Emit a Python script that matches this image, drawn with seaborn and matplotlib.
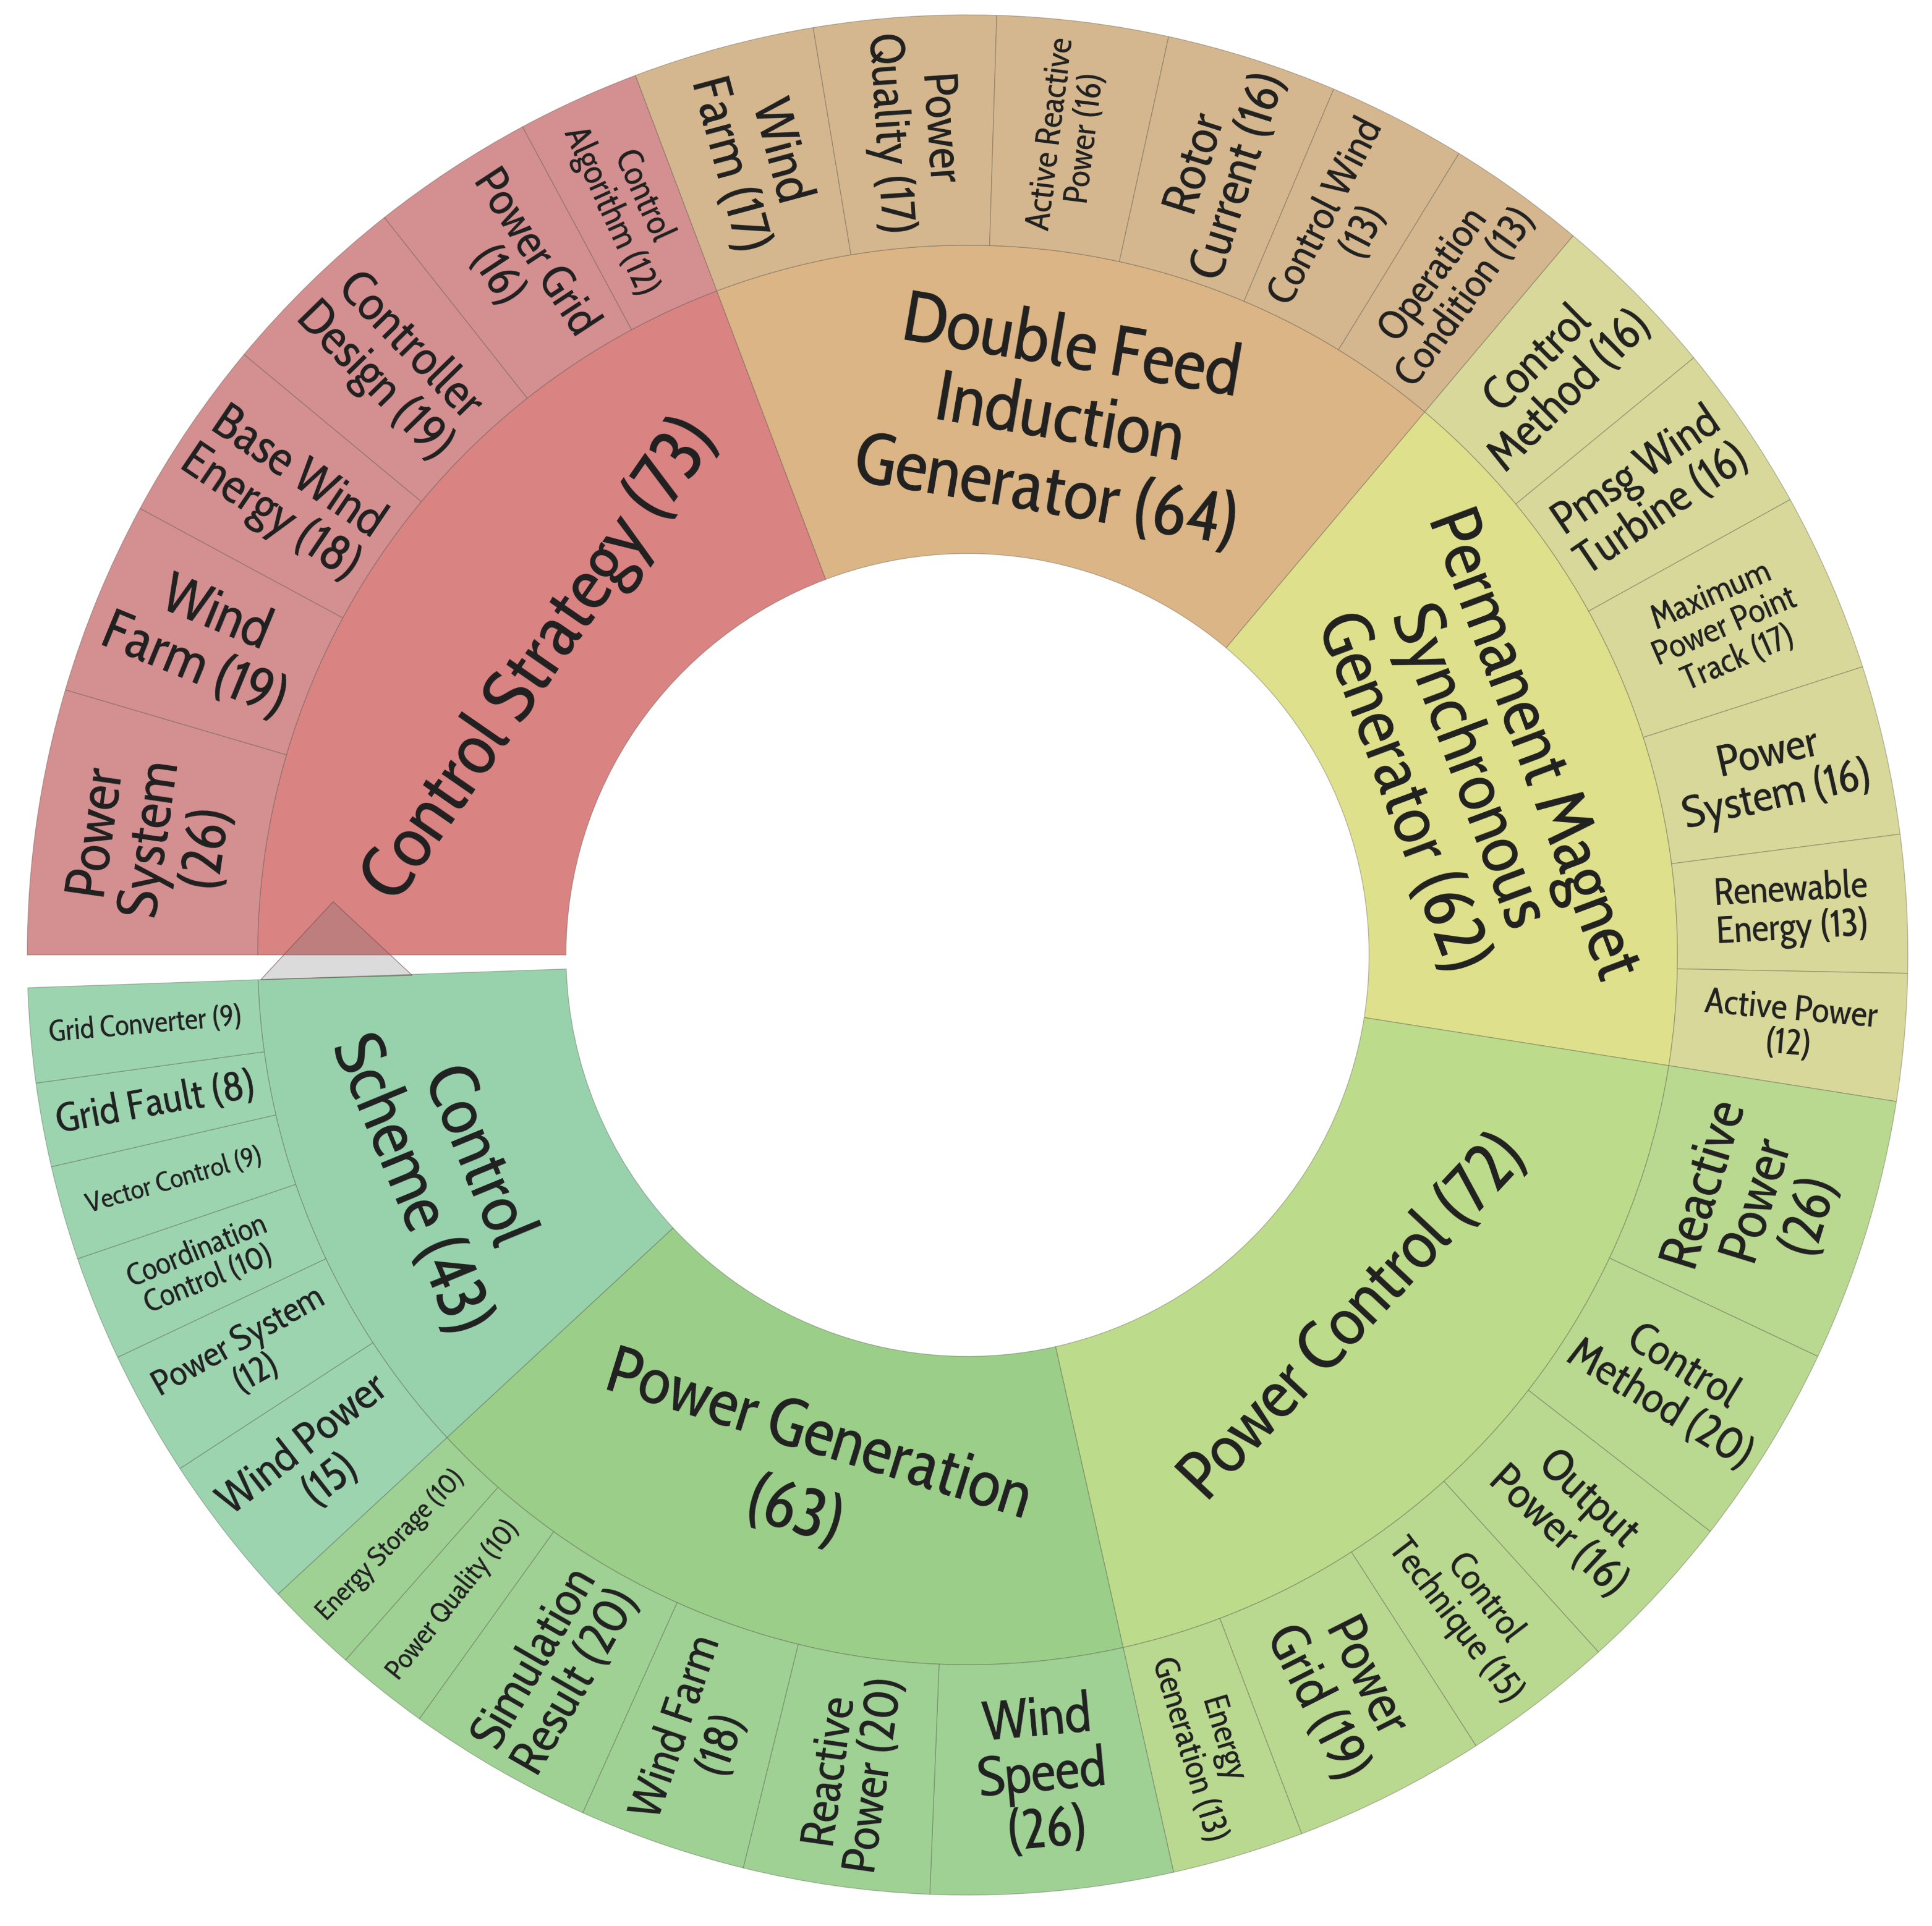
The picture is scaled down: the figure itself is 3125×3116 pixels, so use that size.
import os
import numpy as np
import matplotlib
matplotlib.use('Agg')
import matplotlib.pyplot as plt
from matplotlib.patches import Wedge, Polygon
from matplotlib import font_manager as fm
import seaborn as sns

sns.set_theme(style="white")

# ---------------- data ----------------
# inner ring: topics
topic_labels = ['Control Strategy ({})',
                'Double Feed\nInduction\nGenerator ({})',
                'Permanent Magnet\nSynchronous\nGenerator ({})',
                'Power Control ({})',
                'Power Generation\n({})',
                'Control\nScheme ({})']
topic_counts = [73, 64, 62, 72, 63, 43]

# outer ring: keywords of each topic (clockwise order)
strategy_terms = ['Power\nSystem\n({})', 'Wind\nFarm ({})', 'Base Wind\nEnergy ({})',
                  'Controller\nDesign ({})', 'Power Grid\n({})', 'Control\nAlgorithm ({})']
strategy_counts = [26, 19, 18, 19, 16, 12]

dfig_terms = ['Wind\nFarm ({})', 'Power\nQuality ({})', 'Active Reactive\nPower ({})',
              'Rotor\nCurrent ({})', 'Control Wind\n({})', 'Operation\nCondition ({})']
dfig_counts = [17, 17, 16, 16, 13, 13]

pmsg_terms = ['Control\nMethod ({})', 'Pmsg Wind\nTurbine ({})', 'Maximum\nPower Point\nTrack ({})',
              'Power\nSystem ({})', 'Renewable\nEnergy ({})', 'Active Power\n({})']
pmsg_counts = [16, 16, 17, 16, 13, 12]

pcontrol_terms = ['Reactive\nPower\n({})', 'Control\nMethod ({})', 'Output\nPower ({})',
                  'Control\nTechnique ({})', 'Power\nGrid ({})', 'Energy\nGeneration ({})']
pcontrol_counts = [26, 20, 16, 15, 19, 13]

pgen_terms = ['Wind\nSpeed\n({})', 'Reactive\nPower ({})', 'Wind Farm\n({})',
              'Simulation\nResult ({})', 'Power Quality ({})', 'Energy Storage ({})']
pgen_counts = [26, 20, 18, 20, 10, 10]

scheme_terms = ['Wind Power\n({})', 'Power System\n({})', 'Coordination\nControl ({})',
                'Vector Control ({})', 'Grid Fault ({})', 'Grid Converter ({})']
scheme_counts = [15, 12, 10, 9, 8, 9]

keyword_terms = [strategy_terms, dfig_terms, pmsg_terms, pcontrol_terms, pgen_terms, scheme_terms]
keyword_counts = [strategy_counts, dfig_counts, pmsg_counts, pcontrol_counts, pgen_counts, scheme_counts]

# ---------------- style ----------------
inner_colors = ['#d98383', '#dcb586', '#dee08b', '#bcdb8b', '#9bce88', '#98d2ac']
outer_colors = ['#d49090', '#d5b78f', '#d7d899', '#b9d890', '#9ed193', '#9dd4b0']

inner_fs = [86, 84, 82, 80, 78, 80]
inner_r = [0.55, 0.575, 0.565, 0.565, 0.58, 0.605]
inner_ls = [1.0, 1.05, 1.0, 1.0, 1.3, 1.05]
outer_fs = [[66, 66, 58, 58, 54, 41],
            [62, 56, 40, 58, 48, 48],
            [55, 53, 40, 52, 44, 42],
            [64, 52, 52, 43, 63, 40],
            [64, 56, 54, 58, 33, 32],
            [52, 42, 36, 32, 48, 34]]
# 't' = along the ring, 'r' = along the radius
outer_orient = [['t', 'r', 'r', 'r', 'r', 'r'],
                ['r'] * 6,
                ['r'] * 6,
                ['t', 'r', 'r', 'r', 'r', 'r'],
                ['t', 'r', 'r', 'r', 'r', 'r'],
                ['r'] * 6]

R_IN, R_MID, R_OUT = 0.427, 0.755, 1.0
START = 180.0   # chart starts at 9 o'clock, runs clockwise
SPAN = 358.0    # small gap left before the start


def pick_font():
    files = {os.path.basename(f.fname).lower(): f.fname for f in fm.fontManager.ttflist}
    for name in ['cabincondensed-regular.ttf', 'asapcondensed-regular.ttf',
                 'notosans-condensed.ttf', 'archivonarrow-regular.ttf']:
        if name in files:
            return files[name]
    return None


font_file = pick_font()


def fprop(size):
    if font_file:
        fp = fm.FontProperties(fname=font_file)
    else:
        fp = fm.FontProperties(family='Lato')
    fp.set_size(size)
    return fp


def text_rot(theta, orient):
    rot = theta - 90 if orient == 't' else theta
    rot = (rot + 180) % 360 - 180
    if rot > 90:
        rot -= 180
    elif rot <= -90:
        rot += 180
    return rot


def put_label(text, theta, r, orient, size, ls=1.0):
    t = np.deg2rad(theta)
    ax.text(r * np.cos(t), r * np.sin(t), text, rotation=text_rot(theta, orient),
            rotation_mode='anchor', ha='center', va='center', multialignment='center',
            linespacing=ls, color='#202020', fontproperties=fprop(size))


W, H = 3125, 3116
CX, CY, RPX = 1565, 1545, 1521
fig = plt.figure(figsize=(W / 100, H / 100), dpi=100)
ax = fig.add_axes([0, 0, 1, 1])
ax.set_xlim(-CX / RPX, (W - CX) / RPX)
ax.set_ylim(-(H - CY) / RPX, CY / RPX)
ax.axis('off')

edge = (0.3, 0.3, 0.25, 0.35)
total = sum(topic_counts)
a = START
for i, cnt in enumerate(topic_counts):
    span = cnt / total * SPAN
    ax.add_patch(Wedge((0, 0), R_MID, a - span, a, width=R_MID - R_IN,
                       facecolor=inner_colors[i], edgecolor=edge, linewidth=1.0))
    put_label(topic_labels[i].format(cnt), a - span / 2, inner_r[i], 't', inner_fs[i], inner_ls[i])

    sub_total = sum(keyword_counts[i])
    b = a
    for j, k in enumerate(keyword_counts[i]):
        sub = k / sub_total * span
        ax.add_patch(Wedge((0, 0), R_OUT, b - sub, b, width=R_OUT - R_MID,
                           facecolor=outer_colors[i], edgecolor=edge, linewidth=1.0))
        put_label(keyword_terms[i][j].format(k), b - sub / 2, (R_MID + R_OUT) / 2,
                  outer_orient[i][j], outer_fs[i][j])
        b -= sub
    a -= span

# hover pointer left on the picture
tri = [(0.677, 175.2), (0.752, 182.0), (0.591, 182.1)]
tri_xy = [(r * np.cos(np.deg2rad(t)), r * np.sin(np.deg2rad(t))) for r, t in tri]
ax.add_patch(Polygon(tri_xy, closed=True, facecolor=(0.45, 0.45, 0.45, 0.25),
                     edgecolor=(0.45, 0.3, 0.3, 0.6), linewidth=1.0))

fig.savefig('out.png', dpi=100, facecolor='white')
